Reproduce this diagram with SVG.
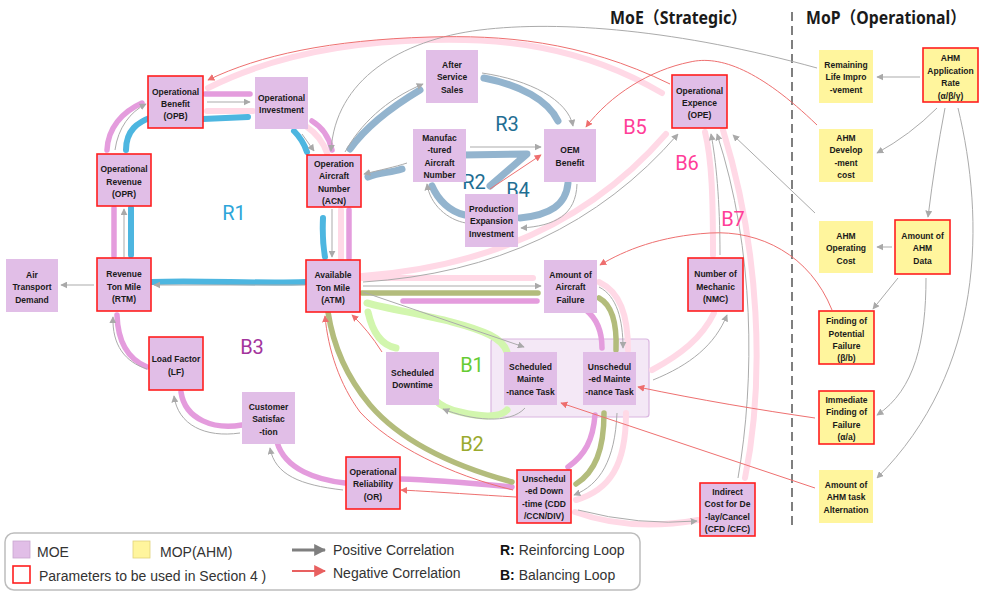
<svg xmlns="http://www.w3.org/2000/svg" width="1000" height="594" viewBox="0 0 1000 594">
<defs>
<marker id="ag" viewBox="0 0 10 10" refX="9" refY="5" markerWidth="7" markerHeight="7" markerUnits="userSpaceOnUse" orient="auto"><path d="M0,0 L10,5 L0,10 z" fill="#A9A9A9"/></marker>
<marker id="ar" viewBox="0 0 10 10" refX="9" refY="5" markerWidth="7" markerHeight="7" markerUnits="userSpaceOnUse" orient="auto"><path d="M0,0 L10,5 L0,10 z" fill="#EE6E6E"/></marker>
<marker id="lg" viewBox="0 0 10 10" refX="9" refY="5" markerWidth="12" markerHeight="12" markerUnits="userSpaceOnUse" orient="auto"><path d="M0,0 L10,5 L0,10 z" fill="#7F7F7F"/></marker>
<marker id="lr" viewBox="0 0 10 10" refX="9" refY="5" markerWidth="12" markerHeight="12" markerUnits="userSpaceOnUse" orient="auto"><path d="M0,0 L10,5 L0,10 z" fill="#E86060"/></marker>
</defs>
<style>
.nd rect{fill:#E1BEE7}
.ny rect{fill:#FFF59D}
.rb rect{stroke:#FF1F1F;stroke-width:1.6}
.t{font-family:"Liberation Sans",Arial,sans-serif;font-weight:bold;font-size:8.5px;fill:#1a1a1a;text-anchor:middle}
.g{fill:none;stroke:#ABABAB;stroke-width:1;marker-end:url(#ag)}
.r{fill:none;stroke:#EE7070;stroke-width:1;marker-end:url(#ar)}
.th{fill:none;stroke-linecap:round;stroke-linejoin:round}
.cy{stroke:#4DB6E0;stroke-width:6}
.sb{stroke:#93B4CE;stroke-width:7}
.mg{stroke:#E49CDD;stroke-width:5.5}
.pk{stroke:#FFD9E6;stroke-width:6}
.ol{stroke:#B3BC7C;stroke-width:5.5}
.gn{stroke:#D2F6AE;stroke-width:7}
.lp{font-family:Roboto,"Liberation Sans",sans-serif;font-size:20px}
.ttl{font-family:"Noto Sans","Noto Sans CJK JP",sans-serif;font-weight:bold;font-size:17px;fill:#1a1a1a}
.lt{font-family:"Liberation Sans",Arial,sans-serif;font-size:14px;fill:#333}
</style>
<rect width="1000" height="594" fill="#ffffff"/>

<!-- titles and divider -->
<text class="ttl" x="610" y="24" textLength="137" lengthAdjust="spacingAndGlyphs">MoE（Strategic）</text>
<text class="ttl" x="806" y="24" textLength="160" lengthAdjust="spacingAndGlyphs">MoP（Operational）</text>
<line x1="792" y1="12" x2="792" y2="525" stroke="#7F7F7F" stroke-width="2" stroke-dasharray="9,5"/>

<!-- maintenance group box -->
<g id="maintenance-group">
<rect x="491" y="339" width="158" height="78" rx="3" fill="#F4E8F6" stroke="#D9B6E0" stroke-width="1.2"/>
</g>

<g id="connectors">
<!-- R1 cyan -->
<path class="th cy" d="M203,119 L248,117"/>
<path class="th cy" d="M294,131 Q303,140 307,152"/>
<path class="th cy" d="M323,218 Q322,240 325,257"/>
<path class="th cy" d="M305,282 C260,284 200,280 152,282"/>
<path class="th cy" d="M131,255 L131,208"/>
<path class="th cy" d="M126,150 C126,130 138,122 152,117"/>
<!-- R2/R3/B4 steel blue -->
<path class="th sb" d="M350,149 C365,128 390,108 420,90"/>
<path class="th sb" d="M484,78 C520,85 548,100 558,121"/>
<path class="th sb" d="M402,169 C390,173 380,172 368,177"/>
<path class="th sb" d="M462,155 L527,154 L490,186"/>
<path class="th sb" d="M568,183 C566,205 550,215 520,218"/>
<path class="th sb" d="M465,215 C450,212 438,200 432,186"/>
<!-- B5/B6/B7 light pink -->
<path class="th pk" d="M662,93 C580,45 500,38 430,40 C330,42 260,62 208,88"/>
<path class="th pk" d="M207,111 L253,111"/>
<path class="th pk" d="M307,127 C316,133 323,142 327,153"/>
<path class="th pk" d="M341,210 L341,258"/>
<path class="th pk" d="M362,276 Q555,262 666,134"/>
<path class="th pk" d="M362,278 L533,278"/>
<path class="th pk" d="M599,282 C620,292 628,315 628,350"/>
<path class="th pk" d="M652,370 C680,355 702,338 714,313"/>
<path class="th pk" d="M713,255 C713,200 712,160 705,132"/>
<path class="th pk" d="M626,413 C626,465 610,490 576,500"/>
<path class="th pk" d="M575,512 Q630,532 698,520"/>
<path class="th pk" d="M745,478 C765,380 760,250 723,130"/>
<!-- B3 magenta -->
<path class="th mg" d="M205,94 L250,94"/>
<path class="th mg" d="M107,150 C108,128 122,112 142,103"/>
<path class="th mg" d="M114,256 L114,208"/>
<path class="th mg" d="M312,121 C322,127 329,137 332,150"/>
<path class="th mg" d="M349,210 L349,258"/>
<path class="th mg" d="M403,301 L537,301"/>
<path class="th mg" d="M586,310 C596,318 602,330 602,348"/>
<path class="th mg" d="M595,415 C593,440 585,455 568,467"/>
<path class="th mg" d="M512,487 C480,484 440,480 400,479"/>
<path class="th mg" d="M345,483 C318,480 285,470 277,442"/>
<path class="th mg" d="M242,425 C215,430 185,420 181,392"/>
<path class="th mg" d="M147,367 C135,362 118,350 117,315"/>
<!-- B2 olive -->
<path class="th ol" d="M362,293 L538,293"/>
<path class="th ol" d="M599,298 C612,305 617,325 616,350"/>
<path class="th ol" d="M604,413 C604,450 595,472 576,484"/>
<path class="th ol" d="M512,482 C450,465 400,440 370,405 C345,375 333,345 328,312"/>
<!-- B1 light green -->
<path class="th gn" d="M367,303 C400,312 460,320 490,335 C500,340 505,346 507,352"/>
<path class="th gn" d="M507,410 C500,418 480,417 460,412 C450,410 440,405 435,400"/>
<path class="th gn" d="M368,312 C372,330 380,345 396,348"/>

<!-- positive (gray) -->
<path class="g" d="M207,102 L250,102"/>
<path class="g" d="M115,150 C118,128 130,112 146,104"/>
<path class="g" d="M124,257 L124,209"/>
<path class="g" d="M302,134 L314,151"/>
<path class="g" d="M94,285 L61,285"/>
<path class="g" d="M305,285 L154,285"/>
<path class="g" d="M332,209 L332,257"/>
<path class="g" d="M817,68 C680,30 560,20 480,30 C400,40 335,80 331,151"/>
<path class="g" d="M345,152 C360,125 385,100 423,84"/>
<path class="g" d="M482,73 C530,80 568,100 573,126"/>
<path class="g" d="M470,147 L541,147"/>
<path class="g" d="M407,163 C395,167 380,170 364,174"/>
<path class="g" d="M466,223 C448,220 430,205 427,184"/>
<path class="g" d="M577,184 C576,215 555,226 521,228"/>
<path class="g" d="M920,77 L877,77"/>
<path class="g" d="M937,108 Q910,135 877,153"/>
<path class="g" d="M945,108 Q935,160 928,217"/>
<path class="g" d="M958,108 C985,220 985,370 877,478"/>
<path class="g" d="M892,247 L877,247"/>
<path class="g" d="M898,278 L873,309"/>
<path class="g" d="M926,278 C926,340 915,390 877,415"/>
<path class="g" d="M815,213 Q770,170 733,135"/>
<path class="g" d="M363,282 Q560,270 678,134"/>
<path class="g" d="M363,286 L541,286"/>
<path class="g" d="M363,292 L524,347"/>
<path class="g" d="M525,408 C510,425 470,420 443,409"/>
<path class="g" d="M599,287 C617,296 623,320 623,348"/>
<path class="g" d="M617,413 C615,460 600,485 574,495"/>
<path class="g" d="M653,380 C690,365 715,345 727,315"/>
<path class="g" d="M578,510 Q640,526 697,521"/>
<path class="g" d="M720,255 C720,200 716,160 711,134"/>
<path class="g" d="M738,478 C755,380 755,250 717,134"/>
<path class="g" d="M343,490 C300,485 275,475 270,448"/>
<path class="g" d="M240,433 C205,438 178,425 174,396"/>
<path class="g" d="M147,369 C125,362 112,345 113,317"/>

<!-- negative (red) -->
<path class="r" d="M670,84 C580,40 500,35 430,37 C330,40 260,55 208,80"/>
<path class="r" d="M817,125 C760,70 720,55 690,62 C650,70 610,95 586,127"/>
<path class="r" d="M490,189 L541,155"/>
<path class="r" d="M832,310 C810,255 760,230 710,233 C660,236 625,250 600,265"/>
<path class="r" d="M815,418 C760,410 700,400 638,387"/>
<path class="r" d="M815,488 L561,403"/>
<path class="r" d="M382,352 Q368,330 352,315"/>
<path class="r" d="M513,490 C450,475 390,445 360,412 C340,385 328,350 325,316"/>
<path class="r" d="M516,497 C480,495 440,492 401,490"/>
</g>

<!-- loop labels -->
<g id="loop-labels">
<text class="lp" x="234" y="220" text-anchor="middle" fill="#2DA5D9">R1</text>
<text class="lp" x="507" y="131" text-anchor="middle" fill="#1F6E93">R3</text>
<text class="lp" x="474" y="189" text-anchor="middle" fill="#1F6E93">R2</text>
<text class="lp" x="518" y="197" text-anchor="middle" fill="#1F6E93">B4</text>
<text class="lp" x="635" y="134" text-anchor="middle" fill="#FF3D98">B5</text>
<text class="lp" x="687" y="170" text-anchor="middle" fill="#FF3D98">B6</text>
<text class="lp" x="733" y="226" text-anchor="middle" fill="#FF3D98">B7</text>
<text class="lp" x="252" y="354" text-anchor="middle" fill="#A3349D">B3</text>
<text class="lp" x="472" y="372" text-anchor="middle" fill="#66CC33">B1</text>
<text class="lp" x="472" y="451" text-anchor="middle" fill="#9AAA2E">B2</text>
</g>

<!-- nodes -->
<g id="OPB" class="nd rb"><rect x="148" y="76" width="55" height="52"/><text class="t"><tspan x="175.5" y="94.5">Operational</tspan><tspan x="175.5" y="106.5">Benefit</tspan><tspan x="175.5" y="118.5">(OPB)</tspan></text></g>
<g id="OI" class="nd"><rect x="255" y="77" width="53" height="52"/><text class="t"><tspan x="281.5" y="101">Operational</tspan><tspan x="281.5" y="113">Investment</tspan></text></g>
<g id="OPR" class="nd rb"><rect x="97" y="154" width="54" height="52"/><text class="t"><tspan x="124" y="172">Operational</tspan><tspan x="124" y="184.5">Revenue</tspan><tspan x="124" y="197">(OPR)</tspan></text></g>
<g id="RTM" class="nd rb"><rect x="97" y="258" width="54" height="53"/><text class="t"><tspan x="124" y="277">Revenue</tspan><tspan x="124" y="289.5">Ton Mile</tspan><tspan x="124" y="302">(RTM)</tspan></text></g>
<g id="ATD" class="nd"><rect x="6" y="259" width="52" height="53"/><text class="t"><tspan x="32" y="277.5">Air</tspan><tspan x="32" y="290">Transport</tspan><tspan x="32" y="302.5">Demand</tspan></text></g>
<g id="ACN" class="nd rb"><rect x="307" y="155" width="54" height="52"/><text class="t"><tspan x="334" y="166.5">Operation</tspan><tspan x="334" y="179">Aircraft</tspan><tspan x="334" y="191.5">Number</tspan><tspan x="334" y="204">(ACN)</tspan></text></g>
<g id="ATM" class="nd rb"><rect x="306" y="260" width="54" height="52"/><text class="t"><tspan x="333" y="278">Available</tspan><tspan x="333" y="290.5">Ton Mile</tspan><tspan x="333" y="303">(ATM)</tspan></text></g>
<g id="ASS" class="nd"><rect x="426" y="50" width="52" height="53"/><text class="t"><tspan x="452" y="67.5">After</tspan><tspan x="452" y="80">Service</tspan><tspan x="452" y="92.5">Sales</tspan></text></g>
<g id="MAN" class="nd"><rect x="413" y="129" width="53" height="53"/><text class="t"><tspan x="439.5" y="141">Manufac</tspan><tspan x="439.5" y="153">-tured</tspan><tspan x="439.5" y="165.5">Aircraft</tspan><tspan x="439.5" y="177.5">Number</tspan></text></g>
<g id="OEM" class="nd"><rect x="544" y="129" width="52" height="53"/><text class="t"><tspan x="570" y="153">OEM</tspan><tspan x="570" y="165.5">Benefit</tspan></text></g>
<g id="PEI" class="nd"><rect x="465" y="194" width="53" height="53"/><text class="t"><tspan x="491.5" y="211.5">Production</tspan><tspan x="491.5" y="224">Expansion</tspan><tspan x="491.5" y="236.5">Investment</tspan></text></g>
<g id="OPE" class="nd rb"><rect x="672" y="75" width="55" height="53"/><text class="t"><tspan x="699.5" y="94">Operational</tspan><tspan x="699.5" y="106">Expence</tspan><tspan x="699.5" y="118">(OPE)</tspan></text></g>
<g id="AAF" class="nd"><rect x="544" y="260" width="53" height="53"/><text class="t"><tspan x="570.5" y="277.5">Amount of</tspan><tspan x="570.5" y="290">Aircraft</tspan><tspan x="570.5" y="302.5">Failure</tspan></text></g>
<g id="NMC" class="nd rb"><rect x="688" y="258" width="55" height="53"/><text class="t"><tspan x="715.5" y="277">Number of</tspan><tspan x="715.5" y="289.5">Mechanic</tspan><tspan x="715.5" y="302">(NMC)</tspan></text></g>
<g id="SD" class="nd"><rect x="386" y="352" width="53" height="53"/><text class="t"><tspan x="412.5" y="375.5">Scheduled</tspan><tspan x="412.5" y="388">Downtime</tspan></text></g>
<g id="SMT" class="nd"><rect x="504" y="352" width="53" height="53"/><text class="t"><tspan x="530.5" y="369.5">Scheduled</tspan><tspan x="530.5" y="382">Mainte</tspan><tspan x="530.5" y="394.5">-nance Task</tspan></text></g>
<g id="UMT" class="nd"><rect x="583" y="352" width="53" height="53"/><text class="t"><tspan x="609.5" y="369.5">Unschedul</tspan><tspan x="609.5" y="382">-ed Mainte</tspan><tspan x="609.5" y="394.5">-nance Task</tspan></text></g>
<g id="UDT" class="nd rb"><rect x="517" y="470" width="54" height="53"/><text class="t"><tspan x="544" y="481.5">Unschedul</tspan><tspan x="544" y="494">-ed Down</tspan><tspan x="544" y="506.5">-time (CDD</tspan><tspan x="544" y="519">/CCN/DIV)</tspan></text></g>
<g id="OR" class="nd rb"><rect x="346" y="457" width="54" height="52"/><text class="t"><tspan x="373" y="474.5">Operational</tspan><tspan x="373" y="487">Reliability</tspan><tspan x="373" y="499.5">(OR)</tspan></text></g>
<g id="CS" class="nd"><rect x="242" y="392" width="53" height="52"/><text class="t"><tspan x="268.5" y="409.5">Customer</tspan><tspan x="268.5" y="422">Satisfac</tspan><tspan x="268.5" y="434.5">-tion</tspan></text></g>
<g id="LF" class="nd rb"><rect x="149" y="337" width="54" height="53"/><text class="t"><tspan x="176" y="362">Load Factor</tspan><tspan x="176" y="374.5">(LF)</tspan></text></g>
<g id="IC" class="nd rb"><rect x="700" y="483" width="55" height="53"/><text class="t"><tspan x="727.5" y="494.5">Indirect</tspan><tspan x="727.5" y="507">Cost for De</tspan><tspan x="727.5" y="519.5">-lay/Cancel</tspan><tspan x="727.5" y="532">(CFD /CFC)</tspan></text></g>
<g id="RLI" class="ny"><rect x="819" y="50" width="54" height="53"/><text class="t"><tspan x="846" y="67.5">Remaining</tspan><tspan x="846" y="80">Life Impro</tspan><tspan x="846" y="92.5">-vement</tspan></text></g>
<g id="AAR" class="ny rb"><rect x="923" y="48" width="55" height="54"/><text class="t"><tspan x="950.5" y="61">AHM</tspan><tspan x="950.5" y="73.5">Application</tspan><tspan x="950.5" y="86">Rate</tspan><tspan x="950.5" y="98.5">(α/β/γ)</tspan></text></g>
<g id="ADC" class="ny"><rect x="819" y="129" width="54" height="53"/><text class="t"><tspan x="846" y="140.5">AHM</tspan><tspan x="846" y="153">Develop</tspan><tspan x="846" y="165.5">-ment</tspan><tspan x="846" y="177.5">cost</tspan></text></g>
<g id="AOC" class="ny"><rect x="819" y="221" width="54" height="52"/><text class="t"><tspan x="846" y="238.5">AHM</tspan><tspan x="846" y="251">Operating</tspan><tspan x="846" y="263.5">Cost</tspan></text></g>
<g id="AAD" class="ny rb"><rect x="895" y="220" width="55" height="54"/><text class="t"><tspan x="922.5" y="238.5">Amount of</tspan><tspan x="922.5" y="251">AHM</tspan><tspan x="922.5" y="263.5">Data</tspan></text></g>
<g id="FPF" class="ny rb"><rect x="819" y="311" width="55" height="53"/><text class="t"><tspan x="846.5" y="324">Finding of</tspan><tspan x="846.5" y="336.5">Potential</tspan><tspan x="846.5" y="349">Failure</tspan><tspan x="846.5" y="361">(β/b)</tspan></text></g>
<g id="IFF" class="ny rb"><rect x="819" y="391" width="55" height="53"/><text class="t"><tspan x="846.5" y="402.5">Immediate</tspan><tspan x="846.5" y="415">Finding of</tspan><tspan x="846.5" y="427.5">Failure</tspan><tspan x="846.5" y="439.5">(α/a)</tspan></text></g>
<g id="ATA" class="ny"><rect x="819" y="470" width="54" height="53"/><text class="t"><tspan x="846" y="487.5">Amount of</tspan><tspan x="846" y="500">AHM task</tspan><tspan x="846" y="512.5">Alternation</tspan></text></g>

<!-- legend -->
<g id="legend">
<rect x="5" y="533" width="635" height="57" rx="9" fill="#ffffff" stroke="#BDBDBD" stroke-width="1.5"/>
<rect x="13" y="541" width="17" height="17" fill="#E1BEE7" stroke="#C9A6D0" stroke-width="0.8"/>
<text class="lt" x="37" y="557">MOE</text>
<rect x="133" y="541" width="17" height="17" fill="#FFF59D" stroke="#E0D37A" stroke-width="0.8"/>
<text class="lt" x="160" y="557">MOP(AHM)</text>
<rect x="13" y="566" width="17" height="17" fill="#ffffff" stroke="#FF1F1F" stroke-width="1.6"/>
<text class="lt" x="39" y="581">Parameters to be used in Section 4 )</text>
<line x1="292" y1="550" x2="325" y2="550" stroke="#7F7F7F" stroke-width="3" marker-end="url(#lg)"/>
<text class="lt" x="333" y="555">Positive Correlation</text>
<line x1="292" y1="571" x2="325" y2="571" stroke="#E86060" stroke-width="2" marker-end="url(#lr)"/>
<text class="lt" x="333" y="578">Negative Correlation</text>
<text class="lt" x="500" y="555"><tspan font-weight="bold" fill="#111">R:</tspan> Reinforcing Loop</text>
<text class="lt" x="500" y="580"><tspan font-weight="bold" fill="#111">B:</tspan> Balancing Loop</text>
</g>
</svg>
